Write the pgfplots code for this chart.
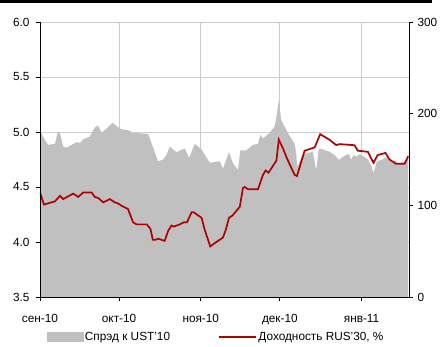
\documentclass[border=0pt]{standalone}
\usepackage{pgfplots}
\usepackage{pgfplotstable}
\pgfplotsset{compat=1.18}
\usepackage{fontspec}
\setmainfont{Liberation Sans}
\definecolor{spr}{RGB}{192,192,192}
\definecolor{rus}{RGB}{176,0,0}
\definecolor{gridc}{RGB}{204,204,204}

% spread vs UST'10, bp (x = days since 1 Sep 2010)
\pgfplotstableread{
x y
0 182
1.5 173
3.1 166
5.7 167
6.7 180
7.6 179
8.8 164
10.1 163
13.9 169
15.2 168
16.4 172
18.9 175
20.8 185
22.1 187
23.4 179
25.3 184
27.5 190
28.8 187
30.9 183
33.4 182
35.3 179
41.0 178
44.8 148
46.7 150
48.0 155
49.2 164
51.8 158
54.9 162
56.6 152
58.7 167
61.3 161
64.4 146.5
68.2 148
69.4 140
71.7 158
73.2 146
75.1 138.5
76.0 160
78.3 160
80.8 166
82.7 167
83.6 177
84.6 173
87.1 179
89.0 186
89.4 191
90.0 202
90.6 215
91.5 193
92.8 186
94.0 179
95.9 170.5
96.6 167
97.2 157
97.6 142
99.7 155
101.6 157
103.5 158.5
104.8 138.5
105.8 162
107.3 161
109.8 158.5
111.7 155
113.4 149.5
115.5 154
117.2 156
118.1 149.5
118.9 155
120.0 153
121.2 155.7
123.1 153
124.4 150
125.6 144
126.5 135
127.8 147.6
129.7 150
131.3 152.4
133.2 147.6
133.8 146
134.5 148.7
135.8 146.5
138.9 147.6
139.7 151
}\spread

% RUS'30 yield, %
\pgfplotstableread{
x y
0 4.45
1.5 4.34
5.7 4.37
7.6 4.42
8.8 4.39
12.6 4.44
14.5 4.41
16.4 4.45
19.6 4.45
20.8 4.41
22.1 4.40
24.0 4.36
26.5 4.39
28.4 4.36
29.7 4.35
30.9 4.33
33.4 4.30
35.3 4.18
36.6 4.16
40.5 4.16
41.9 4.12
42.8 4.02
43.9 4.02
44.8 4.03
46.1 4.02
47.3 4.01
48.6 4.10
49.9 4.15
50.8 4.14
53.0 4.16
54.7 4.18
55.8 4.18
57.5 4.27
58.3 4.27
61.3 4.22
62.5 4.11
64.6 3.96
66.3 3.99
69.4 4.04
70.5 4.11
71.7 4.22
73.0 4.24
75.8 4.32
77.0 4.49
77.7 4.50
78.9 4.48
82.7 4.48
84.6 4.61
85.6 4.65
86.7 4.63
89.7 4.74
90.6 4.93
92.2 4.85
93.7 4.76
96.6 4.61
97.5 4.60
100.4 4.83
104.2 4.86
106.3 4.98
109.8 4.93
112.4 4.88
113.6 4.89
119.3 4.88
120.6 4.83
124.4 4.82
126.5 4.72
128.1 4.79
131.1 4.81
132.6 4.75
135.1 4.71
138.3 4.71
139.7 4.78
}\rus

\pgfplotsset{myax/.style={width=369pt,height=275pt,scale only axis,
  at={(0,0)},anchor=south west,xmin=0,xmax=140,
  tick label style={font=\fontsize{11.8}{13}\selectfont},
  /pgf/number format/assume math mode=true}}

\begin{document}
\begin{tikzpicture}[font=\fontsize{11.8}{13}\selectfont]
\useasboundingbox (-40pt,-50pt) rectangle (402pt,297pt);
\fill[black] (-40pt,297pt) rectangle (392pt,294.3pt);

% grid
\begin{axis}[myax,ymin=3.5,ymax=6,
  xtick={30,61,91,122},ytick={4,4.5,5,5.5,6},
  xticklabels={},yticklabels={},major tick length=0pt,
  grid=major,major grid style={gridc,line width=0.9pt},
  axis line style={draw=none}]
\end{axis}

% spread (right axis)
\begin{axis}[myax,ymin=0,ymax=300,
  axis y line*=right,axis x line=none,
  ytick={0,100,200,300},tick align=outside,major tick length=4pt,
  every tick/.style={black,line width=0.8pt},
  y axis line style={line width=0.8pt},
  yticklabel style={xshift=1pt},
  axis on top]
\addplot[fill=spr,draw=none] table {\spread} \closedcycle;
\end{axis}

% yield (left axis)
\begin{axis}[myax,ymin=3.5,ymax=6,
  axis y line*=left,axis x line*=bottom,
  xtick={0,30,61,91,122},
  xticklabels={сен-10,окт-10,ноя-10,дек-10,янв-11},
  ytick={3.5,4,4.5,5,5.5,6},
  yticklabel style={/pgf/number format/fixed,/pgf/number format/fixed zerofill,
    /pgf/number format/precision=1,xshift=-3pt},
  xticklabel style={yshift=-10pt},
  tick align=outside,major tick length=4pt,
  every tick/.style={black,line width=0.8pt},
  axis line style={line width=0.8pt},
  axis on top,
  legend columns=2,
  legend style={at={(0.477,-0.145)},anchor=center,draw=none,fill=none,
    font=\fontsize{11.8}{13}\selectfont,
    /tikz/every even column/.append style={column sep=46pt}},
  legend cell align=left]
\addlegendimage{legend image code/.code={\fill[spr] (0pt,-4.5pt) rectangle (36pt,4.5pt);}}
\addlegendentry{Спрэд к UST'10}
\addplot[rus,line width=1.7pt,
  legend image code/.code={\draw[rus,line width=1.4pt] (0pt,0pt) -- (37pt,0pt);}]
  table {\rus};
\addlegendentry{Доходность RUS'30, \%}
\end{axis}
\end{tikzpicture}
\end{document}
